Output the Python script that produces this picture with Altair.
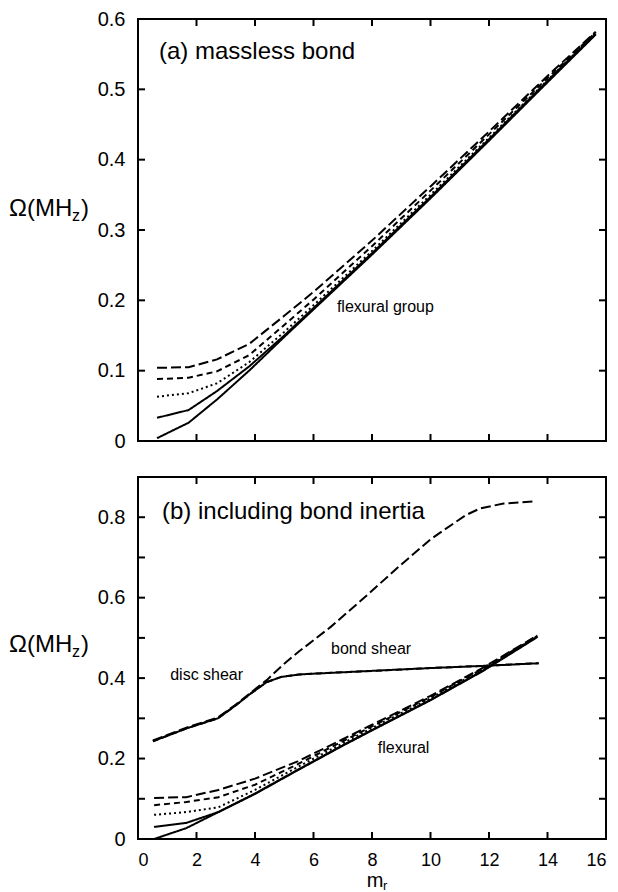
import altair as alt
import pandas as pd

FONT = "Liberation Sans"

# ---------------- panel (a): massless bond ----------------
a_x = [0.65, 1.73, 2.7, 3.8, 5.0, 6.0, 8.0, 10.0, 12.0, 14.0, 15.65]
a_solid1 = [0.004, 0.026, 0.059, 0.100, 0.148, 0.187, 0.265, 0.345, 0.427, 0.510, 0.578]
a_solid2 = [0.033, 0.044, 0.071, 0.106, 0.150, 0.189, 0.267, 0.347, 0.429, 0.512, 0.579]
a_dot = [0.063, 0.068, 0.082, 0.112, 0.155, 0.193, 0.270, 0.350, 0.431, 0.513, 0.580]
a_sdash = [0.088, 0.090, 0.099, 0.122, 0.165, 0.201, 0.277, 0.356, 0.436, 0.516, 0.581]
a_ldash = [0.104, 0.105, 0.116, 0.138, 0.178, 0.212, 0.285, 0.362, 0.440, 0.519, 0.582]

# ---------------- panel (b): including bond inertia ----------------
b_x = [0.55, 1.65, 2.75, 4.0, 5.46, 7.0, 8.0, 10.0, 11.8, 13.65]
b_solid1 = [0.0, 0.027, 0.067, 0.112, 0.171, 0.232, 0.270, 0.345, 0.418, 0.502]
b_solid2 = [0.030, 0.040, 0.067, 0.113, 0.172, 0.233, 0.271, 0.346, 0.419, 0.503]
b_dot = [0.060, 0.067, 0.079, 0.122, 0.179, 0.238, 0.276, 0.350, 0.422, 0.504]
b_sdash = [0.084, 0.092, 0.104, 0.135, 0.186, 0.243, 0.280, 0.353, 0.424, 0.505]
b_ldash = [0.102, 0.104, 0.122, 0.150, 0.193, 0.248, 0.284, 0.356, 0.426, 0.506]

shear_x = [0.51, 1.7, 2.73, 3.3, 3.86, 4.4, 4.9, 5.5, 6.0, 8.0, 10.0, 12.0, 13.7]
shear_y = [0.243, 0.276, 0.300, 0.330, 0.362, 0.390, 0.403, 0.409, 0.411, 0.418, 0.425, 0.431, 0.437]

up_x = [0.51, 1.7, 2.73, 3.3, 3.86, 4.4, 5.0, 5.5, 6.6, 7.75, 8.9, 10.0, 11.2, 11.7, 12.5, 13.6]
up_y = [0.245, 0.278, 0.302, 0.332, 0.364, 0.395, 0.436, 0.466, 0.528, 0.601, 0.676, 0.745, 0.805, 0.822, 0.834, 0.840]

# ---------------- axes ----------------
X_LABELS = [0, 2, 4, 6, 8, 10, 12, 14, 16]
X_TICKS = [2, 4, 6, 8, 10, 12, 14]
A_Y_LABELS = [0.0, 0.1, 0.2, 0.3, 0.4, 0.5, 0.6]
A_Y_TICKS = [0.1, 0.2, 0.3, 0.4, 0.5]
B_Y_LABELS = [0.0, 0.2, 0.4, 0.6, 0.8]
B_Y_TICKS = [0.1, 0.2, 0.3, 0.4, 0.5, 0.6, 0.7, 0.8]

STYLES = ["solid", "dot", "sdash", "ldash"]
DASHES = [[1, 0], [2, 3], [6, 4], [10, 4]]

W = 468
HA = 422
HB = 362
TK = 7


def frame(series):
    rows = []
    for name, style, xs, ys in series:
        for xv, yv in zip(xs, ys):
            rows.append({"x": xv, "y": yv, "s": name, "style": style})
    return pd.DataFrame(rows)


df_a = frame([
    ("s1", "solid", a_x, a_solid1),
    ("s2", "solid", a_x, a_solid2),
    ("d", "dot", a_x, a_dot),
    ("sd", "sdash", a_x, a_sdash),
    ("ld", "ldash", a_x, a_ldash),
])

df_b = frame([
    ("s1", "solid", b_x, b_solid1),
    ("s2", "solid", b_x, b_solid2),
    ("d", "dot", b_x, b_dot),
    ("sd", "sdash", b_x, b_sdash),
    ("ld", "ldash", b_x, b_ldash),
    ("sh", "solid", shear_x, shear_y),
    ("shd", "sdash", shear_x, shear_y),
    ("up", "ldash", up_x, up_y),
])

one = pd.DataFrame({"k": [0]})


def txt(text, x, y, size, align="left", baseline="middle"):
    return alt.Chart(one).mark_text(
        text=text, fontSize=size, font=FONT, align=align, baseline=baseline, color="black"
    ).encode(x=x, y=y)


def panel(df, ydom, H, ylabels, yticks, show_x, annotations, title_y):
    xs = alt.Scale(domain=[0, 16], nice=False, zero=False)
    ys = alt.Scale(domain=ydom, nice=False, zero=False)
    if show_x:
        xaxis = alt.Axis(values=X_LABELS, format="d", ticks=False, domain=False, grid=False,
                         labelPadding=12, labelFontSize=18, title=None)
    else:
        xaxis = None
    yaxis = alt.Axis(values=ylabels,
                     labelExpr="datum.value == 0 ? '0' : format(datum.value, '.1f')",
                     ticks=False, domain=False, grid=False, labelPadding=13,
                     labelFontSize=20, title=None)
    lines = alt.Chart(df).mark_line(color="black", strokeWidth=2).encode(
        x=alt.X("x:Q", scale=xs, axis=xaxis),
        y=alt.Y("y:Q", scale=ys, axis=yaxis),
        detail="s:N",
        strokeDash=alt.StrokeDash("style:N", scale=alt.Scale(domain=STYLES, range=DASHES), legend=None),
    )
    xt = pd.DataFrame({"x": X_TICKS})
    yt = pd.DataFrame({"y": yticks})
    rule = dict(color="black", strokeWidth=2)
    bottom = alt.Chart(xt).mark_rule(**rule).encode(
        x=alt.X("x:Q", scale=xs, axis=xaxis), y=alt.value(H - TK), y2=alt.value(H))
    top = alt.Chart(xt).mark_rule(**rule).encode(
        x=alt.X("x:Q", scale=xs, axis=xaxis), y=alt.value(0), y2=alt.value(TK))
    left = alt.Chart(yt).mark_rule(**rule).encode(
        y=alt.Y("y:Q", scale=ys, axis=yaxis), x=alt.value(0), x2=alt.value(TK))
    right = alt.Chart(yt).mark_rule(**rule).encode(
        y=alt.Y("y:Q", scale=ys, axis=yaxis), x=alt.value(W - TK), x2=alt.value(W))
    layers = [lines, bottom, top, left, right] + annotations
    # y axis title  Ω(MH_z)
    layers += [
        txt("Ω(MH", alt.value(-129), alt.value(title_y), 24),
        txt("z", alt.value(-66), alt.value(title_y + 7), 16),
        txt(")", alt.value(-57), alt.value(title_y), 24),
    ]
    return alt.layer(*layers).properties(width=W, height=H)


ann_a = [
    txt("(a) massless bond", alt.value(21), alt.value(33), 24),
    txt("flexural group", alt.datum(6.8), alt.datum(0.19), 16),
]
ann_b = [
    txt("(b) including bond inertia", alt.value(24), alt.value(35), 24),
    txt("disc shear", alt.datum(1.1), alt.datum(0.407), 16),
    txt("bond shear", alt.datum(6.6), alt.datum(0.472), 16),
    txt("flexural", alt.datum(8.2), alt.datum(0.226), 16),
    txt("m", alt.value(237), alt.value(HB + 48), 20, align="center", baseline="alphabetic"),
    txt("r", alt.value(245), alt.value(HB + 51), 13, align="left", baseline="alphabetic"),
]

pa = panel(df_a, [0, 0.6], HA, A_Y_LABELS, A_Y_TICKS, False, ann_a, 190)
pb = panel(df_b, [0, 0.9], HB, B_Y_LABELS, B_Y_TICKS, True, ann_b, 168)

chart = alt.vconcat(pa, pb, spacing=23, padding={"left": 0, "top": 0, "right": 0, "bottom": 0},
                    background="white").configure_view(
    stroke="black", strokeWidth=2
).configure_axis(
    labelFont=FONT, labelColor="black"
)

chart.save("out.html", embed_options={"renderer": "svg", "actions": False})
